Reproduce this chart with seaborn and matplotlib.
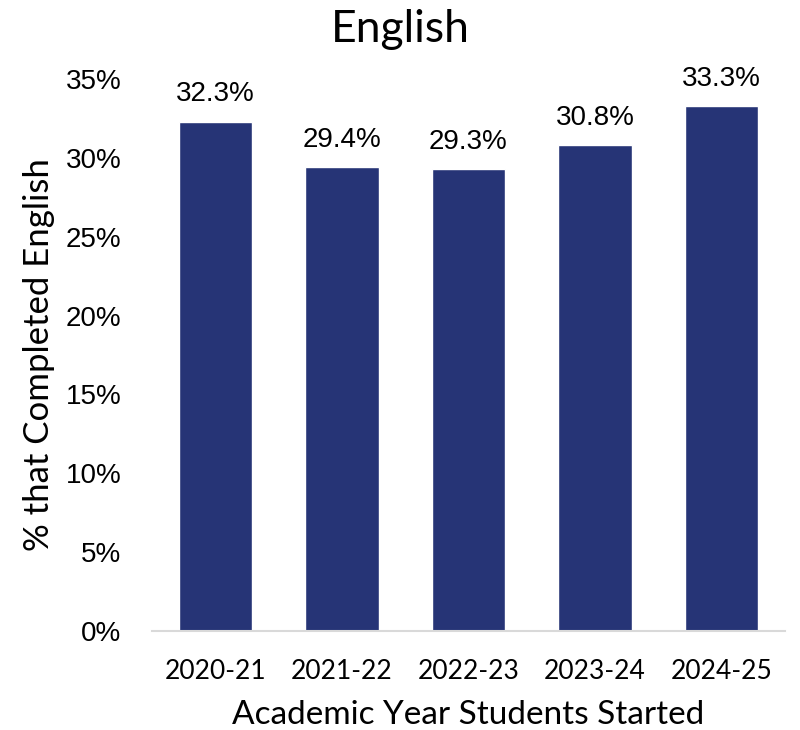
import numpy as np
import pandas as pd
import seaborn as sns
import matplotlib.pyplot as plt
from matplotlib.ticker import FuncFormatter

# Chart data
years = ['2020-21', '2021-22', '2022-23', '2023-24', '2024-25']
pct_completed = [32.3, 29.4, 29.3, 30.8, 33.3]

df = pd.DataFrame({'year': years, 'pct': pct_completed})

sns.set_style('white')
plt.rcParams['font.family'] = ['Lato', 'DejaVu Sans']
plt.rcParams['text.color'] = '#000000'
plt.rcParams['axes.labelcolor'] = '#000000'
plt.rcParams['xtick.color'] = '#000000'
plt.rcParams['ytick.color'] = '#000000'

fig = plt.figure(figsize=(8, 7.3), dpi=100)
ax = fig.add_axes([0.19, 0.1356, 0.791, 0.7562])

sns.barplot(data=df, x='year', y='pct', color='#263476', saturation=1, width=0.58, ax=ax)

# value labels above the bars
for i, v in enumerate(df['pct']):
    ax.text(i, v + 0.9, f'{v:.1f}%', ha='center', va='bottom', fontsize=20,
            family='Liberation Sans')

ax.set_ylim(0, 35)
ax.set_yticks(np.arange(0, 36, 5))
ax.yaxis.set_major_formatter(FuncFormatter(lambda y, _: f'{y:.0f}%'))
for lbl in ax.get_yticklabels():
    lbl.set_family('Liberation Sans')
ax.tick_params(axis='y', labelsize=20, length=0, pad=22)
ax.tick_params(axis='x', labelsize=19, length=0, pad=20)

# title is centred on the whole figure, not the axes
fig.suptitle('English', fontsize=32, x=0.5, y=0.96, va='center')
ax.set_xlabel('Academic Year Students Started', fontsize=24, labelpad=12)
ax.set_ylabel('% that Completed English', fontsize=25, labelpad=8)

sns.despine(ax=ax, left=True)
ax.spines['bottom'].set_color('#d9d9d9')
ax.spines['bottom'].set_linewidth(1.5)

fig.savefig('out.png', dpi=100)
